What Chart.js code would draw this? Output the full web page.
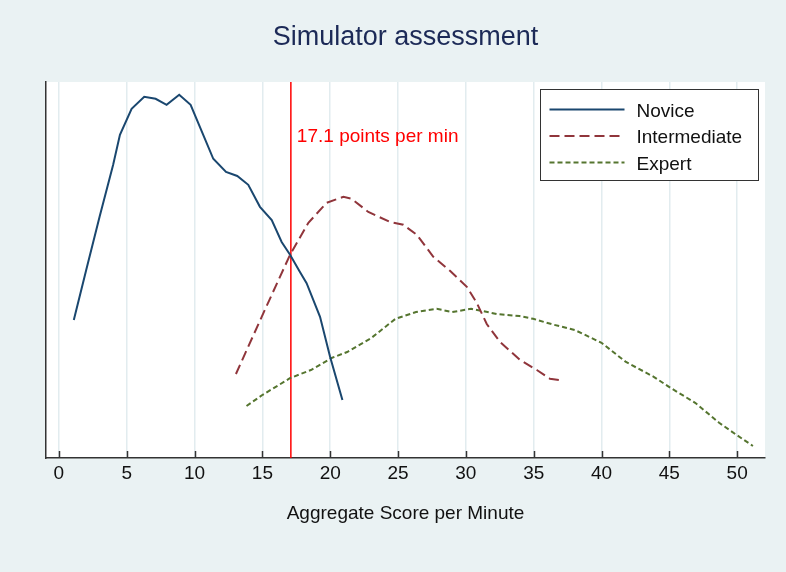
<!DOCTYPE html>
<html>
<head>
<meta charset="utf-8">
<script src="https://cdn.jsdelivr.net/npm/chart.js@4.4.0/dist/chart.umd.min.js"></script>
<style>
  html, body { margin: 0; padding: 0; background: #EAF2F3; }
  #wrap { width: 786px; height: 572px; }
</style>
</head>
<body>
<div id="wrap"><canvas id="simChart" width="786" height="572"></canvas></div>
<script>
// kernel density estimates (y axis is unlabelled)
const scoreNovice = [1.1, 2.0, 3.0, 4.0, 4.5, 5.36, 6.29, 7.13, 7.94, 8.87, 9.71, 10.64, 11.38, 12.32, 13.15, 13.96, 14.82, 15.69, 16.42, 17.04, 17.77, 18.26, 19.25, 19.99, 20.9];
const densityNovice = [0.0345, 0.0468, 0.0603, 0.0733, 0.0808, 0.0873, 0.0903, 0.0898, 0.0883, 0.0908, 0.0883, 0.0808, 0.0748, 0.0715, 0.0705, 0.0683, 0.0628, 0.0595, 0.054, 0.0508, 0.0465, 0.0437, 0.0353, 0.0253, 0.0145];

const scoreIntermediate = [13.05, 14.95, 17.04, 18.39, 19.74, 20.97, 21.58, 22.81, 24.41, 25.39, 26.38, 27.6, 28.83, 30.07, 30.8, 31.54, 32.52, 34.0, 35.23, 36.2, 36.9];
const densityIntermediate = [0.021, 0.0353, 0.0508, 0.0588, 0.0638, 0.0653, 0.0648, 0.0615, 0.059, 0.0583, 0.0558, 0.0503, 0.0468, 0.0428, 0.0388, 0.0335, 0.029, 0.0245, 0.022, 0.0198, 0.0195];

const scoreExpert = [13.83, 15.02, 17.06, 18.58, 20.1, 21.25, 23.03, 24.81, 26.33, 27.85, 28.99, 30.39, 31.15, 32.29, 33.95, 34.96, 36.5, 38.03, 40.0, 41.8, 43.85, 45.1, 46.9, 48.67, 49.94, 51.16];
const densityExpert = [0.013, 0.0158, 0.02, 0.022, 0.025, 0.0265, 0.03, 0.0348, 0.0365, 0.0373, 0.0365, 0.0373, 0.0368, 0.036, 0.0355, 0.0348, 0.0333, 0.032, 0.0288, 0.024, 0.0203, 0.0175, 0.0138, 0.0088, 0.0058, 0.003];

const cutoff = 17.1;
const cutoffLabel = '17.1 points per min';
const chartTitle = 'Simulator assessment';
const xTicks = [0, 5, 10, 15, 20, 25, 30, 35, 40, 45, 50];
const xRange = [-0.95, 52.05];
const yRange = [0, 0.094];

const FONT = '"Liberation Sans", Arial, sans-serif';

const toPoints = (xs, ys) => xs.map((x, i) => ({ x: x, y: ys[i] }));

// grey page, white plot region
const backdrop = {
  id: 'backdrop',
  beforeDraw(chart) {
    const { ctx, chartArea: a } = chart;
    ctx.save();
    ctx.fillStyle = '#EAF2F3';
    ctx.fillRect(0, 0, chart.width, chart.height);
    ctx.fillStyle = '#FFFFFF';
    ctx.fillRect(a.left, a.top, a.right - a.left, a.bottom - a.top);
    ctx.restore();
  }
};

// title centred over the plot region, inward ticks, cutoff label, boxed legend
const annotations = {
  id: 'annotations',
  afterDraw(chart) {
    const { ctx, chartArea: a, scales } = chart;
    ctx.save();

    ctx.font = '27px ' + FONT;
    ctx.fillStyle = '#1C2A57';
    ctx.textAlign = 'center';
    ctx.textBaseline = 'alphabetic';
    ctx.fillText(chartTitle, (a.left + a.right) / 2, a.top - 37);

    // stata draws the x ticks pointing into the plot
    ctx.strokeStyle = '#333333';
    ctx.lineWidth = 1.5;
    xTicks.forEach(v => {
      const px = Math.round(scales.x.getPixelForValue(v)) + 0.5;
      ctx.beginPath();
      ctx.moveTo(px, a.bottom);
      ctx.lineTo(px, a.bottom - 7);
      ctx.stroke();
    });

    ctx.textAlign = 'left';
    ctx.font = '19px ' + FONT;
    ctx.fillStyle = '#FF0000';
    ctx.fillText(cutoffLabel, scales.x.getPixelForValue(cutoff) + 6, a.top + 60);

    const boxW = 218, boxH = 91;
    const bx = Math.round(a.right - 7 - boxW) + 0.5;
    const by = Math.round(a.top + 7) + 0.5;
    ctx.fillStyle = '#FFFFFF';
    ctx.fillRect(bx, by, boxW, boxH);
    ctx.strokeStyle = '#333333';
    ctx.lineWidth = 1;
    ctx.strokeRect(bx, by, boxW, boxH);

    const entries = chart.data.datasets.filter(d => !d.hideInLegend);
    entries.forEach((d, i) => {
      const rowY = by + 20 + i * 26.5;
      ctx.beginPath();
      ctx.setLineDash(d.borderDash || []);
      ctx.strokeStyle = d.borderColor;
      ctx.lineWidth = 2;
      ctx.moveTo(bx + 9, rowY);
      ctx.lineTo(bx + 84, rowY);
      ctx.stroke();
      ctx.setLineDash([]);
      ctx.fillStyle = '#111111';
      ctx.fillText(d.label, bx + 96, rowY + 7);
    });
    ctx.restore();
  }
};

new Chart(document.getElementById('simChart'), {
  type: 'line',
  data: {
    datasets: [
      {
        label: 'Novice',
        data: toPoints(scoreNovice, densityNovice),
        borderColor: '#1A476F',
        borderWidth: 2,
        pointRadius: 0,
        tension: 0
      },
      {
        label: 'Intermediate',
        data: toPoints(scoreIntermediate, densityIntermediate),
        borderColor: '#90353B',
        borderWidth: 2,
        borderDash: [10, 5],
        pointRadius: 0,
        tension: 0
      },
      {
        label: 'Expert',
        data: toPoints(scoreExpert, densityExpert),
        borderColor: '#55752F',
        borderWidth: 2,
        borderDash: [5, 3],
        pointRadius: 0,
        tension: 0
      },
      {
        label: cutoffLabel,
        hideInLegend: true,
        data: [{ x: cutoff, y: yRange[0] }, { x: cutoff, y: yRange[1] }],
        borderColor: '#FF0000',
        borderWidth: 1.5,
        pointRadius: 0
      }
    ]
  },
  options: {
    responsive: false,
    animation: false,
    layout: { padding: { top: 82, right: 21, bottom: 0, left: 0 } },
    plugins: {
      legend: { display: false },
      tooltip: { enabled: false },
      title: { display: false }
    },
    scales: {
      x: {
        type: 'linear',
        min: xRange[0],
        max: xRange[1],
        afterFit(scale) { scale.height = 114; },
        afterBuildTicks(scale) { scale.ticks = xTicks.map(v => ({ value: v })); },
        ticks: {
          color: '#111111',
          font: { family: FONT, size: 19 },
          padding: 4,
          maxRotation: 0,
          autoSkip: false
        },
        grid: {
          color: '#E2ECEF',
          lineWidth: 1.5,
          drawTicks: false
        },
        border: { color: '#333333', width: 1.5 },
        title: {
          display: true,
          text: 'Aggregate Score per Minute',
          color: '#111111',
          font: { family: FONT, size: 19 },
          padding: { top: 0, bottom: 47 }
        }
      },
      y: {
        type: 'linear',
        min: yRange[0],
        max: yRange[1],
        afterFit(scale) { scale.width = 46; },
        ticks: { display: false },
        grid: { display: false, drawTicks: false },
        border: { color: '#333333', width: 1.5 }
      }
    }
  },
  plugins: [backdrop, annotations]
});
</script>
</body>
</html>
